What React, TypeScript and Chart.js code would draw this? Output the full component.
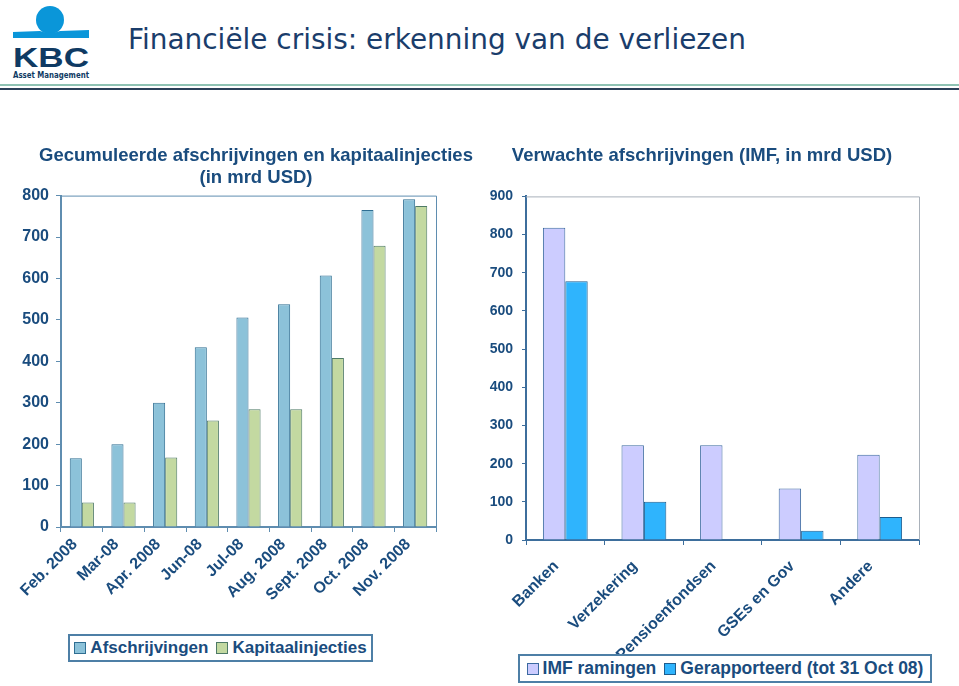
import React, { useEffect, useLayoutEffect, useRef } from "react";
import { Chart, registerables } from "chart.js";

Chart.register(...registerables);

// ---------- data ----------
const periodLabels = ["Feb. 2008", "Mar-08", "Apr. 2008", "Jun-08", "Jul-08", "Aug. 2008", "Sept. 2008", "Oct. 2008", "Nov. 2008"];
const afschrijvingen = [166, 200, 300, 434, 506, 538, 607, 765, 791];
const kapitaalinjecties = [59, 59, 168, 257, 284, 284, 408, 679, 775];

const sectorLabels = ["Banken", "Verzekering", "Pensioenfondsen", "GSEs en Gov", "Andere"];
const imfRamingen = [818, 248, 248, 135, 223];
const gerapporteerd = [678, 100, null, 24, 60];

const leftTitle = ["Gecumuleerde afschrijvingen en kapitaalinjecties", "(in mrd USD)"];
const rightTitle = "Verwachte afschrijvingen (IMF, in mrd USD)";
const mainTitle = "Financiële crisis: erkenning van de verliezen";

// ---------- styles ----------
const TEXT = "#1a4c7e";
const FONT = "'Liberation Sans', Arial, sans-serif";

const framePlugin = {
  id: "frame",
  afterDraw(chart: any, _args: any, opts: any) {
    const { ctx, chartArea } = chart;
    if (!opts || !opts.color) return;
    ctx.save();
    ctx.strokeStyle = opts.color;
    ctx.lineWidth = 1;
    ctx.beginPath();
    ctx.moveTo(chartArea.left, chartArea.top + 0.5);
    ctx.lineTo(chartArea.right + 0.5, chartArea.top + 0.5);
    ctx.lineTo(chartArea.right + 0.5, chartArea.bottom);
    ctx.stroke();
    ctx.restore();
  },
};

function useBarChart(ref: React.RefObject<HTMLCanvasElement>, cfg: any) {
  useEffect(() => {
    if (!ref.current) return;
    const chart = new Chart(ref.current, cfg);
    return () => chart.destroy();
  }, []);
}

function LeftChart() {
  const ref = useRef<HTMLCanvasElement>(null);
  useBarChart(ref, {
    type: "bar",
    data: {
      labels: periodLabels,
      datasets: [
        { label: "Afschrijvingen", data: afschrijvingen, backgroundColor: "#8cc2d9", borderColor: "#2f6e92", borderWidth: 1 },
        { label: "Kapitaalinjecties", data: kapitaalinjecties, backgroundColor: "#c3d9a1", borderColor: "#4e7a66", borderWidth: 1 },
      ],
    },
    plugins: [framePlugin],
    options: {
      responsive: false,
      animation: false,
      layout: { padding: { top: 10, right: 14, left: 0, bottom: 0 } },
      datasets: { bar: { categoryPercentage: 0.58, barPercentage: 1 } },
      plugins: {
        legend: { display: false },
        tooltip: { enabled: false },
        frame: { color: "#5f8db0" },
      },
      scales: {
        x: {
          grid: { display: true, drawOnChartArea: false, drawTicks: true, tickLength: 5, color: "#5f8db0", offset: true },
          border: { display: true, color: "#5f8db0", width: 2 },
          ticks: { color: TEXT, font: { family: FONT, size: 16, weight: "bold" }, maxRotation: 45, minRotation: 45, padding: 3, labelOffset: -7, autoSkip: false },
          afterFit: (s: any) => { s.height = 92; },
        },
        y: {
          min: 0,
          max: 800,
          ticks: { stepSize: 100, color: TEXT, font: { family: FONT, size: 16, weight: "bold" }, padding: 7 },
          grid: { display: true, drawOnChartArea: false, drawTicks: true, tickLength: 5, color: "#5f8db0" },
          border: { display: true, color: "#5f8db0", width: 2 },
          afterFit: (s: any) => { s.width = 61; },
        },
      },
    },
  });
  return <canvas ref={ref} width={450} height={440} style={{ position: "absolute", left: 0, top: 179 }} />;
}

function RightChart() {
  const ref = useRef<HTMLCanvasElement>(null);
  useBarChart(ref, {
    type: "bar",
    data: {
      labels: sectorLabels,
      datasets: [
        { label: "IMF ramingen", data: imfRamingen, backgroundColor: "#ccccff", borderColor: "#3c6aa0", borderWidth: 1 },
        { label: "Gerapporteerd (tot 31 Oct 08)", data: gerapporteerd, backgroundColor: "#2fb4fd", borderColor: "#1d5d8e", borderWidth: 1 },
      ],
    },
    plugins: [framePlugin],
    options: {
      responsive: false,
      animation: false,
      layout: { padding: { top: 10, right: 40, left: 0, bottom: 0 } },
      datasets: { bar: { categoryPercentage: 0.57, barPercentage: 1 } },
      plugins: {
        legend: { display: false },
        tooltip: { enabled: false },
        frame: { color: "#a9b1ba" },
      },
      scales: {
        x: {
          grid: { display: true, drawOnChartArea: false, drawTicks: true, tickLength: 5, color: "#3d6e9c", offset: true },
          border: { display: true, color: "#3d6e9c", width: 2 },
          ticks: { color: TEXT, font: { family: FONT, size: 16, weight: "bold" }, maxRotation: 45, minRotation: 45, padding: 12, labelOffset: -9, autoSkip: false },
          afterFit: (s: any) => { s.height = 119; },
        },
        y: {
          min: 0,
          max: 900,
          ticks: { stepSize: 100, color: TEXT, font: { family: FONT, size: 14, weight: "bold" }, padding: 9 },
          grid: { display: true, drawOnChartArea: false, drawTicks: true, tickLength: 4, color: "#3d6e9c" },
          border: { display: true, color: "#3d6e9c", width: 2 },
          afterFit: (s: any) => { s.width = 46; },
        },
      },
    },
  });
  return <canvas ref={ref} width={479} height={480} style={{ position: "absolute", left: 480, top: 179 }} />;
}

function LegendBox({ left, top, width, height, items, size }: any) {
  return (
    <div
      style={{
        position: "absolute", left, top, width, height, boxSizing: "border-box", background: "#fff",
        border: "2px solid #4d7fa6", display: "flex", alignItems: "center", justifyContent: "center",
        fontFamily: FONT, fontWeight: "bold", fontSize: size, color: TEXT, whiteSpace: "nowrap",
      }}
    >
      {items.map((it: any, i: number) => (
        <span key={i} style={{ display: "inline-flex", alignItems: "center", marginLeft: i ? 8 : 0 }}>
          <span style={{ display: "inline-block", width: 10, height: 10, background: it.color, border: "1px solid " + it.border, marginRight: 4 }} />
          {it.label}
        </span>
      ))}
    </div>
  );
}

function Logo() {
  return (
    <svg width={100} height={85} style={{ position: "absolute", left: 0, top: 0 }}>
      <circle cx={50} cy={20} r={14} fill="#0a96d9" />
      <path d="M13 32 L40 31 Q50 35 60 31 L89 30 L89 38 L13 38 Z" fill="#0a96d9" />
      <text x={51} y={67} textAnchor="middle" fontFamily={FONT} fontWeight="bold" fontSize={28} fill="#0f3a63" textLength={76} lengthAdjust="spacingAndGlyphs">KBC</text>
      <text x={51} y={78} textAnchor="middle" fontFamily="'DejaVu Sans', sans-serif" fontWeight="bold" fontSize={9} fill="#0f3a63" textLength={76} lengthAdjust="spacingAndGlyphs">Asset Management</text>
    </svg>
  );
}

function MainTitle() {
  const ref = useRef<HTMLSpanElement>(null);
  useLayoutEffect(() => {
    const el = ref.current;
    if (!el) return;
    const w = el.offsetWidth;
    if (w > 0) el.style.transform = `scaleX(${618 / w})`;
  }, []);
  return (
    <span
      ref={ref}
      style={{
        position: "absolute", left: 128, top: 22, display: "inline-block", transformOrigin: "0 0",
        fontFamily: "'DejaVu Sans', sans-serif", fontSize: 29, lineHeight: "34px", color: "#1a3d6b", whiteSpace: "nowrap",
      }}
    >
      {mainTitle}
    </span>
  );
}

export default function App() {
  const titleStyle: React.CSSProperties = {
    position: "absolute", fontFamily: FONT, fontWeight: "bold", fontSize: 18.5, lineHeight: "22px", color: TEXT, textAlign: "center", whiteSpace: "nowrap",
  };
  return (
    <div style={{ position: "absolute", left: 0, top: 0, width: 959, height: 686, background: "#fff", overflow: "hidden" }}>
      <Logo />
      <MainTitle />
      <div style={{ position: "absolute", left: 0, top: 84, width: 959, height: 2, background: "#8fc2b3" }} />
      <div style={{ position: "absolute", left: 0, top: 88, width: 959, height: 2, background: "#2b3f58" }} />

      <LeftChart />
      <RightChart />

      <div style={{ ...titleStyle, left: 0, width: 512, top: 144 }}>
        {leftTitle[0]}
        <br />
        {leftTitle[1]}
      </div>
      <div style={{ ...titleStyle, left: 480, width: 444, top: 144 }}>{rightTitle}</div>

      <LegendBox
        left={68} top={634} width={305} height={28} size={17}
        items={[
          { label: "Afschrijvingen", color: "#8cc2d9", border: "#2f6e92" },
          { label: "Kapitaalinjecties", color: "#c3d9a1", border: "#4e7a66" },
        ]}
      />
      <LegendBox
        left={518} top={654} width={414} height={29} size={17.5}
        items={[
          { label: "IMF ramingen", color: "#ccccff", border: "#3c6aa0" },
          { label: "Gerapporteerd (tot 31 Oct 08)", color: "#2fb4fd", border: "#1d5d8e" },
        ]}
      />
    </div>
  );
}
